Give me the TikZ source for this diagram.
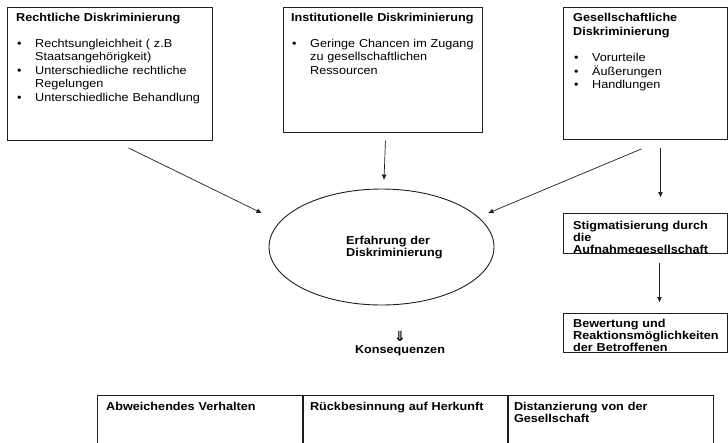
\documentclass[tikz,border=0pt]{standalone}
\usepackage{fontspec}
\setmainfont[FakeStretch=1.1]{Liberation Sans}
\newfontfamily\zeichen{DejaVu Sans}
\usepackage{tikz}
\usetikzlibrary{arrows.meta, positioning, shapes.geometric}
\definecolor{rahmen}{RGB}{30,30,30}
% Aufzaehlungspunkt mit haengendem Einzug
\newcommand{\punkt}[1]{\par\hangindent=19pt\hangafter=1\noindent
    \makebox[19pt][l]{\hspace{1pt}\textbullet}{\let\\\newline #1}\par}

\begin{document}
\begin{tikzpicture}[
    x=1pt, y=-1pt,
    font=\fontsize{11.5}{13.5}\selectfont,
    kasten/.style={
        rectangle, draw=rahmen,
        line width=0.9pt,
        inner sep=0pt,
        anchor=north west
    },
    txt/.style={
        anchor=base west,
        inner sep=0pt,
        align=left
    },
    fett/.style={
        font=\fontsize{11.5}{12}\selectfont\bfseries
    },
    pfeil/.style={
        -{Triangle[length=5pt, width=4.5pt]},
        line width=0.7pt, draw=rahmen
    }
]
\useasboundingbox (0,0) rectangle (728,442);

% obere Reihe
\node[kasten, minimum width=205pt, minimum height=133pt]
    (recht) at (7,7) {};
\node[kasten, minimum width=199pt, minimum height=125pt]
    (inst) at (283,7) {};
\node[kasten, minimum width=164pt, minimum height=132pt]
    (gesell) at (563,7) {};

\node[txt, text width=195pt]
    (recht-t) at ([xshift=9pt,yshift=-14pt]recht.north west)
    {\baselineskip=13.5pt
     \textbf{Rechtliche Diskriminierung}\par\vspace{12.5pt}
     \punkt{Rechtsungleichheit ( z.B\\Staatsangehörigkeit)}
     \punkt{Unterschiedliche rechtliche\\Regelungen}
     \punkt{Unterschiedliche Behandlung}};
\node[txt, text width=188pt]
    (inst-t) at ([xshift=8pt,yshift=-14pt]inst.north west)
    {\baselineskip=13.5pt
     \textbf{Institutionelle Diskriminierung}\par\vspace{12.5pt}
     \punkt{Geringe Chancen im Zugang\\zu gesellschaftlichen\\Ressourcen}};
\node[txt, text width=152pt]
    (gesell-t) at ([xshift=10pt,yshift=-14pt]gesell.north west)
    {\baselineskip=13.5pt
     \textbf{Gesellschaftliche}\\[1pt]\textbf{Diskriminierung}\par\vspace{12.5pt}
     \punkt{Vorurteile}
     \punkt{Äußerungen}
     \punkt{Handlungen}};

% Mitte
\node[ellipse, draw=rahmen, line width=0.9pt,
      minimum width=225pt, minimum height=116pt]
    (erfahrung) at (381.5,247) {};
\node[txt, fett, text width=120pt]
    (erfahrung-t) at (346,244.5)
    {Erfahrung der\\Diskriminierung};

\node[kasten, minimum width=164pt, minimum height=40pt]
    (stig) at (563,213) {};
\begin{scope}
    \clip (stig.north west) rectangle (stig.south east);
    \node[txt, text width=150pt, font=\fontsize{11.5}{12.3}\selectfont\bfseries]
        (stig-t) at ([xshift=10pt,yshift=-16pt]stig.north west)
        {Stigmatisierung durch\\die\\Aufnahmegesellschaft};
\end{scope}
\node[kasten, minimum width=164pt, minimum height=39pt]
    (bew) at (563,313) {};
\node[txt, fett, text width=150pt]
    (bew-t) at ([xshift=10pt,yshift=-14.5pt]bew.north west)
    {Bewertung und\\Reaktionsmöglichkeiten\\der Betroffenen};

\node[inner sep=0pt, font=\fontsize{14}{14}\zeichen\bfseries]
    (folge) at (400,336) {⇓};
\node[inner sep=0pt, fett, below=4pt of folge]
    (konsequenzen) {Konsequenzen};

% Tabelle unten
\node[kasten, minimum width=205pt, minimum height=56pt]
    (abw) at (97,395) {};
\node[kasten, minimum width=204pt, minimum height=56pt]
    (rueck) at (abw.north east) {};
\node[kasten, minimum width=205pt, minimum height=56pt]
    (dist) at (rueck.north east) {};
\node[txt, fett, text width=190pt]
    (abw-t) at ([xshift=9pt,yshift=-15pt]abw.north west)
    {Abweichendes Verhalten};
\node[txt, fett, text width=190pt]
    (rueck-t) at ([xshift=7pt,yshift=-15pt]rueck.north west)
    {Rückbesinnung auf Herkunft};
\node[txt, fett, text width=190pt]
    (dist-t) at ([xshift=6pt,yshift=-15pt]dist.north west)
    {Distanzierung von der\\Gesellschaft};

% Pfeile
\draw[pfeil] ([xshift=18.5pt,yshift=-7pt]recht.south)
    -- ([xshift=-7pt,yshift=34pt]erfahrung.west);
\draw[pfeil] ([xshift=2.5pt,yshift=-8pt]inst.south)
    -- ([xshift=2.5pt,yshift=9pt]erfahrung.north);
\draw[pfeil] ([xshift=-4pt,yshift=-9pt]gesell.south)
    -- ([xshift=-6pt,yshift=34pt]erfahrung.east);
\draw[pfeil] ([xshift=15pt,yshift=-8pt]gesell.south)
    -- ([xshift=15pt,yshift=16pt]stig.north);
\draw[pfeil] ([xshift=14pt,yshift=-9pt]stig.south)
    -- ([xshift=14pt,yshift=11pt]bew.north);
\end{tikzpicture}
\end{document}
